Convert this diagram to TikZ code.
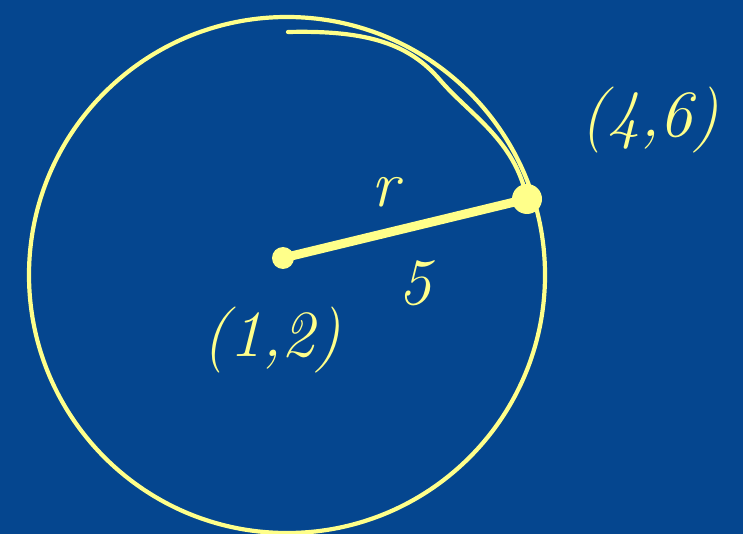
\documentclass[tikz,border=0pt]{standalone}
\usepackage{fontspec}
\definecolor{board}{HTML}{05468F}
\definecolor{chalk}{HTML}{FFFF8A}
\begin{document}
\begin{tikzpicture}[x=1pt,y=-1pt,
  stroke/.style={draw=chalk,line width=4.2pt,line cap=round,line join=round},
  dotmark/.style={circle,fill=chalk,inner sep=0pt},
  lbl/.style={text=chalk,font=\fontsize{66}{66}\selectfont\itshape}]
\fill[board] (0,0) rectangle (743,534);
\useasboundingbox (0,0) rectangle (743,534);
\coordinate (o) at (287,275);
\draw[stroke] (o) circle (258);
\node[dotmark,minimum size=22pt] (c) at (283,258) {};
\node[dotmark,minimum size=30pt] (p) at (527,199) {};
\draw[stroke,line width=9pt] (c.center) -- (p.center);
\coordinate (s) at (288,32);
\draw[stroke] (s) .. controls (370,30) and (410,45) .. (440,80)
  .. controls (470,115) and (515,140) .. (p.center);
\node[lbl] (l46) at (650,120) {(4,6)};
\node[lbl] (l12) at (272,340) {(1,2)};
\node[lbl] (r) at (385,192) {r};
\node[lbl] (five) at (415,283) {5};
\end{tikzpicture}
\end{document}
